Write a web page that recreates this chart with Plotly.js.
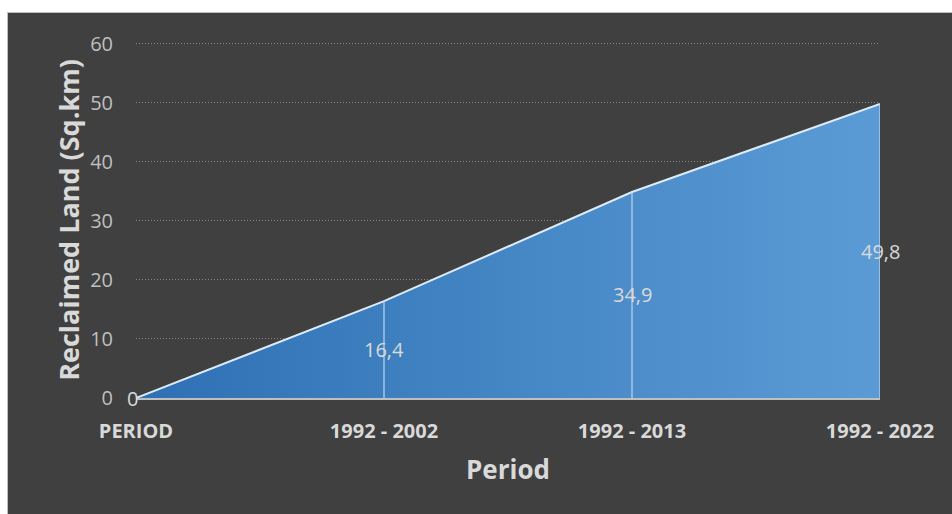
<!DOCTYPE html>
<html><head><meta charset="utf-8">
<script src="https://cdn.plot.ly/plotly-3.0.1.min.js"></script>
<style>
html,body{margin:0;padding:0;background:#fff;width:952px;height:514px;overflow:hidden}
#frame{position:absolute;left:7px;top:12px;width:945px;height:502px;background:#404040;box-sizing:border-box;border-left:1px solid #bfbfbf;border-top:1px solid #bfbfbf}
#chart{position:absolute;left:0;top:0;width:944px;height:501px}
</style></head>
<body><div id="frame"><div id="chart"></div></div>
<script>
const categories = ["PERIOD", "1992 - 2002", "1992 - 2013", "1992 - 2022"];
const reclaimed = [0, 16.4, 34.9, 49.8];
const labels = ["0", "16,4", "34,9", "49,8"];
const yTicks = [0, 10, 20, 30, 40, 50, 60];

const idx = categories.map((c, i) => i);

const area = {
  x: idx, y: reclaimed, type: 'scatter', mode: 'lines',
  fill: 'tozeroy',
  fillgradient: {type: 'horizontal', colorscale: [[0, '#2E70B4'], [1, '#5B9BD5']]},
  line: {color: '#DDEBF7', width: 2},
  hoverinfo: 'skip', showlegend: false
};

const dropX = [], dropY = [];
idx.slice(1).forEach(i => { dropX.push(i, i, null); dropY.push(0, reclaimed[i], null); });
const drops = {
  x: dropX, y: dropY, type: 'scatter', mode: 'lines',
  line: {color: '#BDD7EE', width: 1.2}, hoverinfo: 'skip', showlegend: false
};

const labelFont = {family: 'Open Sans, sans-serif', size: 20, color: '#D9D9D9'};
const annotations = idx.map(i => i === 0 ? {
  x: i, y: 0, text: labels[i], showarrow: false, xanchor: 'right', yanchor: 'middle', xshift: 4,
  font: labelFont
} : {
  x: i, y: reclaimed[i] / 2, text: labels[i], showarrow: false, xanchor: 'center', yanchor: 'middle',
  font: labelFont
});

const layout = {
  width: 944, height: 501,
  paper_bgcolor: '#404040', plot_bgcolor: '#404040',
  margin: {l: 128, r: 72, t: 29, b: 116},
  font: {family: 'Open Sans, sans-serif', color: '#D9D9D9'},
  xaxis: {
    range: [0, 3], tickmode: 'array', tickvals: idx, ticktext: categories,
    showgrid: false, zeroline: false, showline: true, linecolor: '#BFBFBF', linewidth: 2,
    tickfont: {size: 20, color: '#D9D9D9', weight: 'bold'}, ticks: '', ticklabelstandoff: 14,
    title: {text: 'Period', font: {size: 26, color: '#D9D9D9', weight: 'bold'}, standoff: 18}
  },
  yaxis: {
    range: [0, 60.3], tickmode: 'array', tickvals: yTicks,
    showgrid: true, gridcolor: '#858585', griddash: '1px,2px', gridwidth: 1,
    zeroline: false, showline: false, ticks: '', ticklabelstandoff: 22,
    tickfont: {size: 20, color: '#BFBFBF'},
    title: {text: 'Reclaimed Land (Sq.km)', font: {size: 27, color: '#D9D9D9', weight: 'bold'}, standoff: 2}
  },
  annotations: annotations
};

Plotly.newPlot('chart', [area, drops], layout, {displayModeBar: false, staticPlot: true});
</script></body></html>
